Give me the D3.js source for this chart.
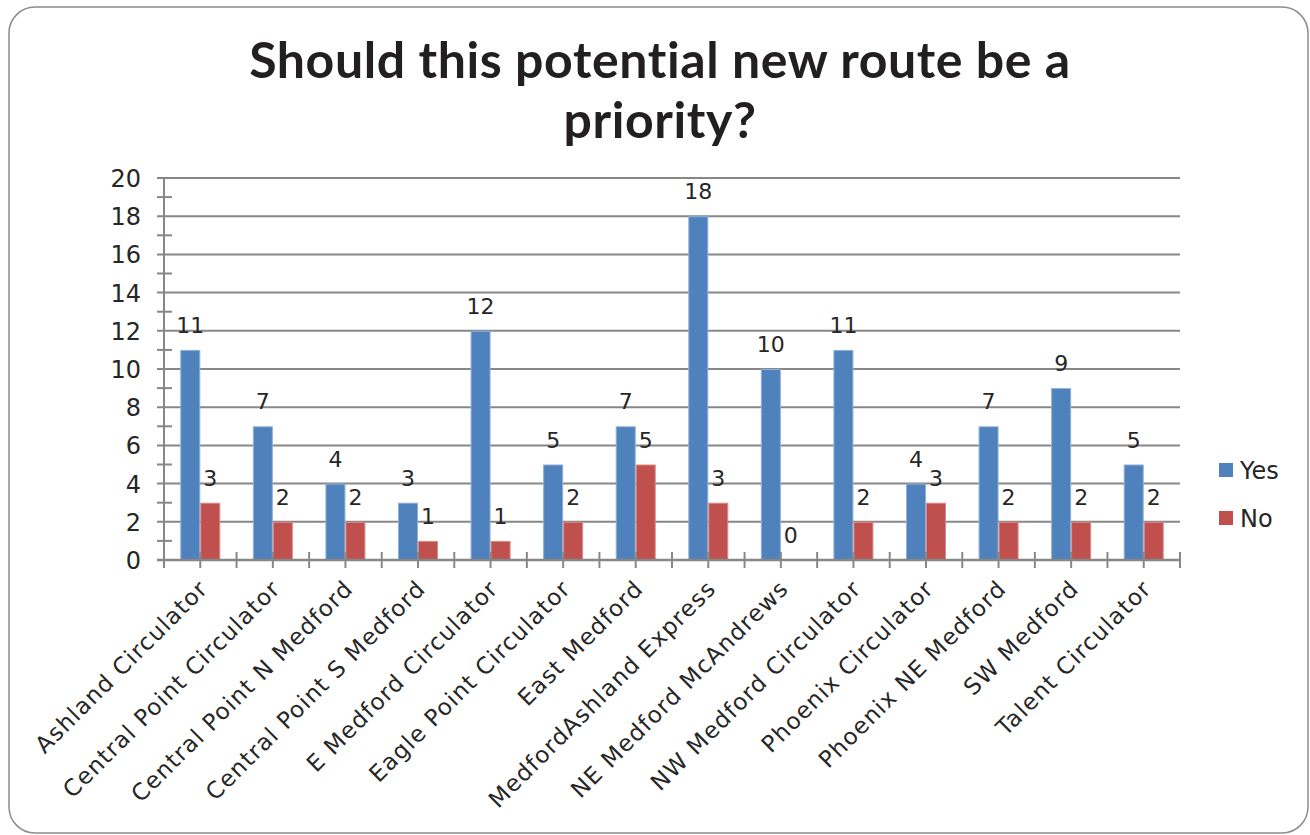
<!DOCTYPE html>
<html><head><meta charset="utf-8">
<script src="https://cdn.jsdelivr.net/npm/d3@7"></script>
<style>body{margin:0;background:#fff;}svg{display:block;}</style>
</head><body>
<svg id="c" width="1310" height="835"></svg>
<script>
const categories = ["Ashland Circulator","Central Point Circulator","Central Point N Medford","Central Point S Medford","E Medford Circulator","Eagle Point Circulator","East Medford","MedfordAshland Express","NE Medford McAndrews","NW Medford Circulator","Phoenix Circulator","Phoenix NE Medford","SW Medford","Talent Circulator"];
const yesValues = [11,7,4,3,12,5,7,18,10,11,4,7,9,5];
const noValues  = [3,2,2,1,1,2,5,3,0,2,3,2,2,2];
const seriesNames = ["Yes","No"];
const seriesColors = ["#4F81BD","#C0504D"];
const seriesEdges = ["#8fb0d8","#d98a88"];
const yTicks = [0,2,4,6,8,10,12,14,16,18,20];
const titleLines = ["Should this potential new route be a","priority?"];

const svg = d3.select("#c");
const font = "DejaVu Sans, sans-serif";
const gridColor = "#878787";

svg.append("rect").attr("x",9).attr("y",7).attr("width",1299).attr("height",826)
  .attr("rx",26).attr("fill","#fff").attr("stroke","#8c8c8c").attr("stroke-width",1.5);

const L=164, R=1180, T=178, B=560;
const x0 = d3.scaleBand().domain(categories).range([L,R]).paddingInner(0).paddingOuter(0);
const y = d3.scaleLinear().domain([0,20]).range([B,T]);
const bw = 20;

// title
svg.append("g").selectAll("text").data(titleLines).join("text")
  .attr("x",660).attr("y",(d,i)=>78+i*60).attr("text-anchor","middle")
  .attr("font-family","Lato, sans-serif").attr("font-weight","bold").attr("font-size",50)
  .attr("letter-spacing",0.6)
  .attr("fill","#231f20").text(d=>d);

// gridlines
svg.append("g").selectAll("line").data(yTicks.filter(d=>d>0)).join("line")
  .attr("x1",157).attr("x2",R).attr("y1",d=>y(d)).attr("y2",d=>y(d))
  .attr("stroke",gridColor).attr("stroke-width",2);

// y minor ticks
svg.append("g").selectAll("line").data(d3.range(1,20,2)).join("line")
  .attr("x1",157).attr("x2",172).attr("y1",d=>y(d)).attr("y2",d=>y(d))
  .attr("stroke",gridColor).attr("stroke-width",2);

// y axis line
svg.append("line").attr("x1",L).attr("x2",L).attr("y1",T).attr("y2",B+4)
  .attr("stroke",gridColor).attr("stroke-width",2);

// y labels
svg.append("g").selectAll("text").data(yTicks).join("text")
  .attr("x",141).attr("y",d=>y(d)+9).attr("text-anchor","end")
  .attr("font-family",font).attr("font-size",24).attr("fill","#262626").text(d=>d);

// bars
const groups = svg.append("g").selectAll("g").data(categories).join("g")
  .attr("transform",d=>`translate(${x0(d)+x0.bandwidth()/2},0)`);
[yesValues,noValues].forEach((vals,si)=>{
  groups.append("rect")
    .attr("x",(si===0?-bw:0)+0.5).attr("width",bw-1)
    .attr("y",(d,i)=>y(vals[i])+0.5).attr("height",(d,i)=>Math.max(0,B-y(vals[i])-0.5))
    .attr("fill",seriesColors[si]).attr("stroke",(d,i)=>vals[i]>0?seriesEdges[si]:"none").attr("stroke-width",1);
  groups.append("text")
    .attr("x",si===0?-bw/2:bw/2).attr("y",(d,i)=>y(vals[i])-17)
    .attr("text-anchor","middle").attr("font-family",font).attr("font-size",22)
    .attr("fill","#262626").text((d,i)=>vals[i]);
});

// x axis line
svg.append("line").attr("x1",157).attr("x2",R).attr("y1",B).attr("y2",B)
  .attr("stroke",gridColor).attr("stroke-width",2.5);
// x ticks at half-category
const xt = d3.range(0,categories.length*2+1).map(i=>L+i*x0.bandwidth()/2);
svg.append("g").selectAll("line").data(xt).join("line")
  .attr("x1",d=>d).attr("x2",d=>d).attr("y1",552).attr("y2",568)
  .attr("stroke",gridColor).attr("stroke-width",2);

// x labels
svg.append("g").selectAll("text").data(categories).join("text")
  .attr("transform",d=>`translate(${x0(d)+x0.bandwidth()/2+9},590) rotate(-45)`)
  .attr("text-anchor","end").attr("font-family",font).attr("font-size",23)
  .attr("letter-spacing",1.2)
  .attr("fill","#262626").text(d=>d);

// legend
const lg = svg.append("g").selectAll("g").data(seriesNames).join("g")
  .attr("transform",(d,i)=>`translate(1219,${463+i*48})`);
lg.append("rect").attr("width",14).attr("height",14).attr("fill",(d,i)=>seriesColors[i]);
lg.append("text").attr("x",21).attr("y",16).attr("font-family",font).attr("font-size",24)
  .attr("fill","#262626").text(d=>d);
</script>
</body></html>
